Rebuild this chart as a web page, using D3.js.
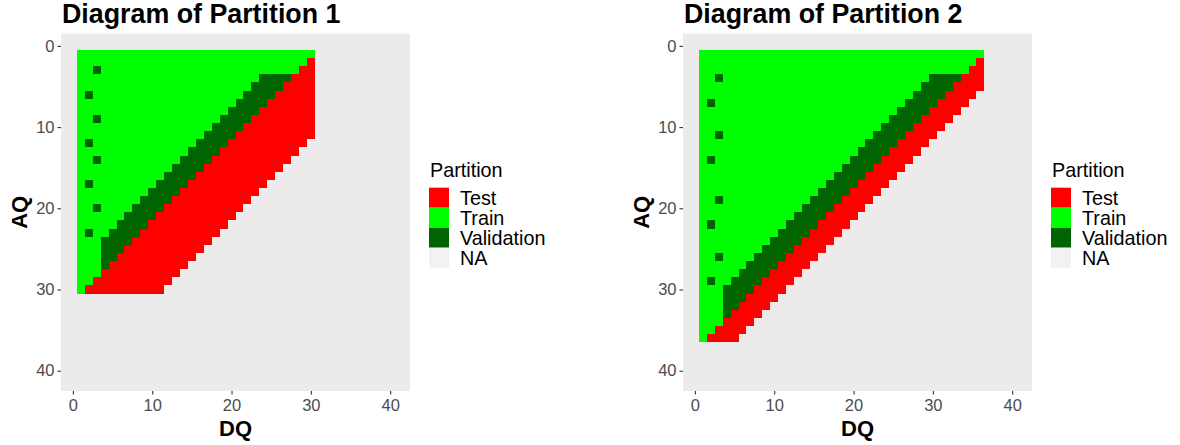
<!DOCTYPE html>
<html>
<head>
<meta charset="utf-8">
<script src="https://cdn.jsdelivr.net/npm/d3@7/dist/d3.min.js"></script>
<style>
  html, body { margin: 0; padding: 0; background: #ffffff; }
  svg { display: block; font-family: "Liberation Sans", Arial, sans-serif; }
</style>
</head>
<body>
<svg id="chart" width="1180" height="445"></svg>
<script>
// ---------- data ----------
const axisTicks = [0, 10, 20, 30, 40];
const partitionLevels = ["Test", "Train", "Validation", "NA"];
const partitionColors = ["#FF0000", "#00FF00", "#006400", "#F2F2F2"];
const chartTitles = ["Diagram of Partition 1", "Diagram of Partition 2"];

// Partition 1: for each AQ row (1..30), run lengths along DQ starting at DQ = 1
const p1Train = [30,29,28,23,22,21,20,19,18,17,16,15,14,13,12,11,10,9,8,7,6,5,4,3,3,3,3,3,2,1];
const p1Valid = [0,0,0,4,4,4,4,4,4,4,4,4,4,4,4,4,4,4,4,4,4,4,4,4,3,2,1,0,0,0];
const p1Test  = [0,1,2,3,4,5,6,7,8,9,10,10,10,10,10,10,10,10,10,10,10,10,10,10,10,10,10,10,10,10];
const p1DotDQ = [3,2,3,2,3,2,3,2];
const p1DotAQ = [3,6,9,12,14,17,20,23];

// Partition 2: for each AQ row (1..36)
const p2Train = [36,35,34,29,28,27,26,25,24,23,22,21,20,19,18,17,16,15,14,13,12,11,10,9,8,7,6,5,4,3,3,3,3,3,2,1];
const p2Valid = [0,0,0,4,4,4,4,4,4,4,4,4,4,4,4,4,4,4,4,4,4,4,4,4,4,4,4,4,4,4,3,2,1,0,0,0];
const p2Test  = [0,1,2,3,4,4,4,4,4,4,4,4,4,4,4,4,4,4,4,4,4,4,4,4,4,4,4,4,4,4,4,4,4,4,4,4];
const p2DotDQ = [3,2,3,2,3,2,3,2];
const p2DotAQ = [4,7,11,14,19,22,26,29];

// ---------- build tile tables ----------
function buildTiles(train, valid, test, dotDQ, dotAQ) {
  const tiles = [];
  train.forEach((t, i) => {
    const aq = i + 1;
    let dq = 1;
    const runs = [["Train", t], ["Validation", valid[i]], ["Test", test[i]]];
    runs.forEach(([lab, n]) => {
      for (let k = 0; k < n; k++) { tiles.push({ dq: dq, aq: aq, p: lab }); dq++; }
    });
  });
  dotDQ.forEach((d, i) => {
    const t = tiles.find(e => e.dq === d && e.aq === dotAQ[i]);
    if (t) t.p = "Validation";
  });
  return tiles;
}
const panels = [
  { title: chartTitles[0], tiles: buildTiles(p1Train, p1Valid, p1Test, p1DotDQ, p1DotAQ),
    left: 61, right: 410, legendX: 429 },
  { title: chartTitles[1], tiles: buildTiles(p2Train, p2Valid, p2Test, p2DotDQ, p2DotAQ),
    left: 683, right: 1032, legendX: 1051 }
];

const color = d3.scaleOrdinal().domain(partitionLevels).range(partitionColors);
const svg = d3.select("#chart");
const panelTop = 33.7, panelBottom = 391;

panels.forEach(pn => {
  const g = svg.append("g");
  const x = d3.scaleLinear().domain([-1.5, 42.5]).range([pn.left, pn.right]);
  const y = d3.scaleLinear().domain([-1.5, 42.5]).range([panelTop, panelBottom]);

  g.append("rect").attr("x", pn.left).attr("y", panelTop)
    .attr("width", pn.right - pn.left).attr("height", panelBottom - panelTop).attr("fill", "#EBEBEB");

  g.append("g").selectAll("rect").data(pn.tiles).join("rect")
    .attr("x", d => x(d.dq - 0.5))
    .attr("y", d => y(d.aq - 0.5))
    .attr("width", d => x(d.dq + 0.5) - x(d.dq - 0.5))
    .attr("height", d => y(d.aq + 0.5) - y(d.aq - 0.5))
    .attr("fill", d => color(d.p))
    .attr("shape-rendering", "crispEdges");

  const xAxis = g.append("g").attr("transform", `translate(0,${panelBottom})`)
    .call(d3.axisBottom(x).tickValues(axisTicks).tickSize(3.5).tickPadding(5));
  const yAxis = g.append("g").attr("transform", `translate(${pn.left},0)`)
    .call(d3.axisLeft(y).tickValues(axisTicks).tickSize(3.5).tickPadding(3));
  [xAxis, yAxis].forEach(a => {
    a.select(".domain").remove();
    a.selectAll(".tick line").attr("stroke", "#333333").attr("stroke-width", 1.1);
    a.selectAll(".tick text").attr("fill", "#4D4D4D")
      .style("font-size", "16.5px").style("font-family", "'Liberation Sans', Arial, sans-serif");
  });

  g.append("text").attr("x", pn.left + 1).attr("y", 23)
    .attr("font-size", 26.8).attr("font-weight", "bold").attr("fill", "#000")
    .text(pn.title);

  g.append("text").attr("x", (pn.left + pn.right) / 2).attr("y", 436)
    .attr("text-anchor", "middle").attr("font-size", 22).attr("font-weight", "bold")
    .text("DQ");
  g.append("text")
    .attr("transform", `translate(${pn.left - 34},${(panelTop + panelBottom) / 2}) rotate(-90)`)
    .attr("text-anchor", "middle").attr("font-size", 22).attr("font-weight", "bold")
    .text("AQ");

  // legend
  const lg = g.append("g");
  lg.append("text").attr("x", pn.legendX + 1).attr("y", 176.5)
    .attr("font-size", 19.8).attr("fill", "#000").text("Partition");
  partitionLevels.forEach((lab, i) => {
    const ky = 187.7 + i * 20;
    lg.append("rect").attr("x", pn.legendX).attr("y", ky).attr("width", 20).attr("height", 20)
      .attr("fill", color(lab));
    lg.append("text").attr("x", pn.legendX + 31).attr("y", ky + 17.3)
      .attr("font-size", 19.8).attr("fill", "#000").text(lab);
  });
});
</script>
</body>
</html>
